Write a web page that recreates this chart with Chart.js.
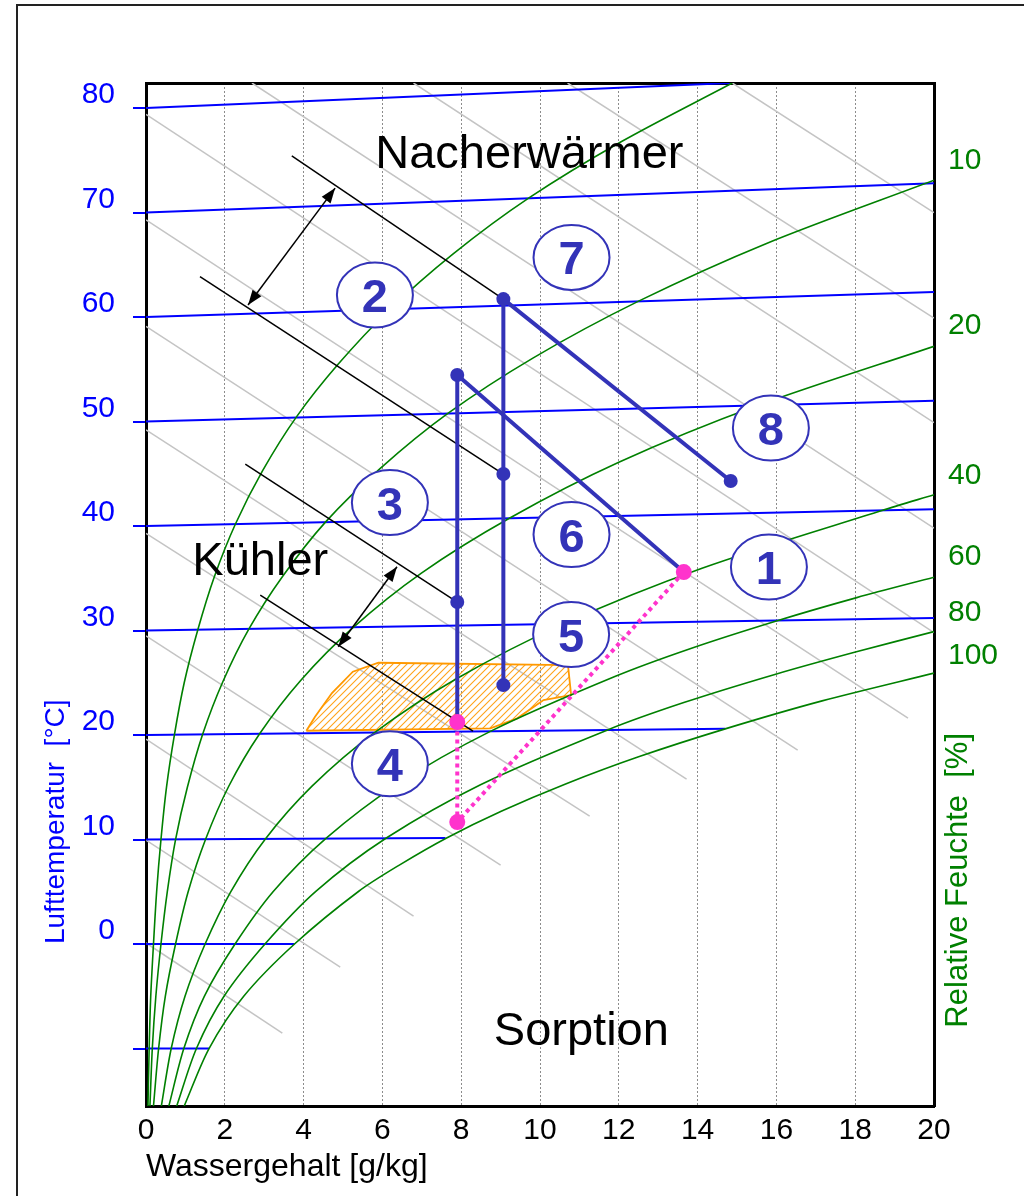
<!DOCTYPE html>
<html><head><meta charset="utf-8">
<script src="https://cdn.jsdelivr.net/npm/chart.js@4.4.1/dist/chart.umd.min.js"></script>
<style>
html,body{margin:0;padding:0;background:#fff;overflow:hidden;width:1024px;height:1196px;}
#frame{position:absolute;left:16px;top:4px;width:1100px;height:1300px;border:2px solid #222;box-sizing:border-box;}
#c{position:absolute;left:0;top:0;}
</style></head><body>
<div id="frame"></div>
<canvas id="c" width="1024" height="1196"></canvas>
<script>
// ---------- axes ----------
const xMin = 0, xMax = 20, xStep = 2;
const yMin = -15.5, yMax = 82.4, yStep = 10;          // Mollier ordinate in °C at x = 0
const tempTickLabels = ['', '0', '10', '20', '30', '40', '50', '60', '70', '80'];
const rhTickLabels = ['10', '20', '40', '60', '80', '100'];
const rhTickY = [75.0, 59.2, 44.8, 37.1, 31.7, 27.6];

// ---------- isotherms (blue), start at x=0, y=t ----------
const isoTemps = [-10, 0, 10, 20, 30, 40, 50, 60, 70, 80];
const isoEndX = [1.6, 3.77, 7.6, 14.7, 20, 20, 20, 20, 20, 14.84];
const isoEndY = [-10.0, 0, 10.15, 20.6, 31.2, 41.6, 52.0, 62.4, 72.8, 82.4];

// ---------- enthalpy lines (grey) ----------
const hStartX = [0, 0, 0, 0, 0, 0, 0, 0, 0, 2.69, 6.79, 10.70, 14.88];
const hStartY = [0.1, 9.95, 19.6, 29.5, 39.3, 49.2, 59.1, 69.3, 79.4, 82.4, 82.4, 82.4, 82.4];
const hEndX = [3.46, 4.93, 6.79, 9.0, 11.26, 13.72, 16.54, 19.34, 20, 20, 20, 20, 20];
const hEndY = [-8.52, -2.2, 2.68, 7.56, 12.25, 15.79, 18.56, 21.63, 29.8, 39.8, 49.9, 59.9, 70.0];

// ---------- relative humidity curves (green) ----------
const rh5x = [0.05, 0.08, 0.12, 0.19, 0.27, 0.38, 0.52, 0.72, 0.97, 1.31, 1.73, 2.27, 2.96, 3.81, 4.88, 6.18, 7.78, 9.72, 12.07, 14.88];
const rh5y = [-15.5, -10, -5, 0, 5, 10, 15, 20, 25, 30, 35.1, 40.2, 45.3, 50.4, 55.5, 60.7, 66.0, 71.4, 76.8, 82.4];
const rh10x = [0.1, 0.16, 0.25, 0.38, 0.54, 0.75, 1.05, 1.44, 1.95, 2.62, 3.47, 4.56, 5.94, 7.67, 9.83, 12.49, 15.75, 20];
const rh10y = [-15.5, -10, -5, 0, 5, 10, 15, 20.1, 25.1, 30.2, 35.2, 40.4, 45.5, 50.8, 56.1, 61.5, 67.05, 73.1];
const rh20x = [0.19, 0.32, 0.49, 0.75, 1.07, 1.51, 2.10, 2.88, 3.92, 5.26, 6.99, 9.20, 12.0, 15.54, 20];
const rh20y = [-15.5, -10, -5, 0, 5, 10, 15.1, 20.1, 25.2, 30.3, 35.5, 40.7, 46.1, 51.55, 57.2];
const rh40x = [0.39, 0.64, 0.99, 1.50, 2.15, 3.03, 4.22, 5.80, 7.88, 10.60, 14.13, 18.68, 20];
const rh40y = [-15.5, -10, -5, 0, 5.0, 10.06, 15.13, 20.23, 25.39, 30.64, 35.99, 41.49, 43.0];
const rh60x = [0.58, 0.96, 1.48, 2.26, 3.23, 4.56, 6.34, 8.74, 11.90, 13.81, 16.04, 18.04, 20];
const rh60y = [-15.5, -10, -5, 0, 5.03, 10.09, 15.19, 20.35, 25.6, 28.26, 30.96, 33.15, 35.1];
const rh80x = [0.78, 1.28, 1.98, 3.02, 4.31, 6.09, 8.49, 11.70, 13.65, 15.96, 18.03, 20];
const rh80y = [-15.5, -10, -5, 0, 5.04, 10.12, 15.25, 20.47, 23.11, 25.8, 27.97, 29.9];
const rh100x = [0.97, 1.60, 2.48, 3.77, 5.40, 6.45, 7.63, 9.03, 10.65, 12.52, 14.70, 17.16, 20];
const rh100y = [-15.5, -10, -5, 0, 5.05, 7.6, 10.15, 12.73, 15.32, 17.94, 20.59, 23.27, 25.93];

// ---------- comfort region (orange hatched) ----------
const zoneX = [4.07, 4.29, 4.72, 5.25, 5.90, 10.71, 10.79, 10.09, 9.42, 8.74, 4.07];
const zoneY = [20.41, 21.75, 24.02, 26.06, 26.92, 26.70, 23.83, 23.35, 21.60, 20.64, 20.41];

// ---------- process ----------
const procX = [[7.90, 7.90], [9.07, 9.07], [9.07, 14.84], [7.90, 13.65]];
const procY = [[54.45, 21.24], [61.72, 24.78], [61.72, 44.31], [54.45, 35.6]];
const stateX = [7.90, 9.07, 9.07, 7.90, 9.07, 14.84];
const stateY = [54.45, 61.72, 44.98, 32.73, 24.78, 44.31];
const sorpX = [13.65, 7.90, 7.90];
const sorpY = [35.6, 11.67, 21.24];

// ---------- annotation lines / arrows ----------
const guideX = [[3.70, 9.07], [1.37, 9.07], [2.52, 7.90], [2.90, 8.30]];
const guideY = [[75.43, 61.72], [63.86, 44.98], [45.93, 32.73], [33.40, 20.38]];
const arrowX = [[4.80, 2.59], [6.37, 4.88]];
const arrowY = [[72.34, 61.15], [36.11, 28.45]];

// ---------- labels ----------
const textLabels = ['Nacherwärmer', 'Kühler', 'Sorption'];
const textX = [9.73, 2.90, 11.05];
const textY = [74.26, 35.31, -9.67];
const circleLabels = ['1', '2', '3', '4', '5', '6', '7', '8'];
const circleX = [15.81, 5.81, 6.19, 6.19, 10.79, 10.80, 10.80, 15.86];
const circleY = [36.08, 62.1, 42.25, 17.25, 29.62, 39.19, 65.71, 49.38];

// ================= build =================
const FONT = '"Liberation Sans", Arial, Helvetica, sans-serif';
const BLUE = '#0000ff', GREEN = '#008000', GREY = '#c4c4c4', PROC = '#3333b8', PINK = '#ff33cc', ORANGE = '#ff9900';
const pts = (xs, ys) => xs.map((v, i) => ({x: v, y: ys[i]}));

const canvas = document.getElementById('c');
const pc = document.createElement('canvas'); pc.width = 7; pc.height = 7;
const pg = pc.getContext('2d');
pg.strokeStyle = '#ffa31a'; pg.lineWidth = 1.1;
pg.beginPath(); pg.moveTo(-1, 8); pg.lineTo(8, -1); pg.moveTo(-1, 1); pg.lineTo(1, -1); pg.moveTo(6, 8); pg.lineTo(8, 6); pg.stroke();
const hatch = canvas.getContext('2d').createPattern(pc, 'repeat');

const lineDs = (data, color, width, order, extra) => Object.assign({
  data, showLine: true, borderColor: color, borderWidth: width, pointRadius: 0, fill: false, order, tension: 0
}, extra || {});

const datasets = [];
hStartX.forEach((v, i) => datasets.push(lineDs([{x: v, y: hStartY[i]}, {x: hEndX[i], y: hEndY[i]}], GREY, 1.5, 20)));
datasets.push(lineDs(pts(zoneX, zoneY), ORANGE, 1.8, 18, {fill: 'shape', backgroundColor: hatch}));
isoTemps.forEach((t, i) => datasets.push(lineDs([{x: 0, y: t}, {x: isoEndX[i], y: isoEndY[i]}], BLUE, 2, 16)));
[[rh5x, rh5y], [rh10x, rh10y], [rh20x, rh20y], [rh40x, rh40y], [rh60x, rh60y], [rh80x, rh80y], [rh100x, rh100y]]
  .forEach(([xs, ys]) => datasets.push(lineDs(pts(xs, ys), GREEN, 1.6, 14, {tension: 0.3})));
guideX.forEach((xs, i) => datasets.push(lineDs(pts(xs, guideY[i]), '#000', 1.5, 12)));
arrowX.forEach((xs, i) => datasets.push(lineDs(pts(xs, arrowY[i]), '#000', 1.5, 12)));
procX.forEach((xs, i) => datasets.push(lineDs(pts(xs, procY[i]), PROC, 4, 10)));
datasets.push(lineDs(pts(sorpX, sorpY), PINK, 4, 8, {borderDash: [4, 4]}));
datasets.push({data: pts(stateX, stateY), showLine: false, pointRadius: 7, pointBackgroundColor: PROC, pointBorderWidth: 0, order: 6});
datasets.push({data: pts(sorpX, sorpY), showLine: false, pointRadius: 8, pointBackgroundColor: PINK, pointBorderWidth: 0, order: 5});

const overlay = {
  id: 'overlay',
  afterDatasetsDraw(chart) {
    const {ctx, chartArea: ca, scales: {x, y}} = chart;
    const px = v => x.getPixelForValue(v), py = v => y.getPixelForValue(v);
    ctx.save();
    // arrow heads
    ctx.fillStyle = '#000';
    arrowX.forEach((xs, i) => {
      const ax = xs.map(px), ay = arrowY[i].map(py);
      [[0, 1], [1, 0]].forEach(([a, b]) => {
        const ang = Math.atan2(ay[a] - ay[b], ax[a] - ax[b]);
        const L = 15, W = 5.5;
        ctx.beginPath();
        ctx.moveTo(ax[a], ay[a]);
        ctx.lineTo(ax[a] - L * Math.cos(ang) + W * Math.sin(ang), ay[a] - L * Math.sin(ang) - W * Math.cos(ang));
        ctx.lineTo(ax[a] - L * Math.cos(ang) - W * Math.sin(ang), ay[a] - L * Math.sin(ang) + W * Math.cos(ang));
        ctx.closePath(); ctx.fill();
      });
    });
    // big labels
    ctx.fillStyle = '#000';
    ctx.font = '47px ' + FONT; ctx.textAlign = 'center'; ctx.textBaseline = 'alphabetic';
    textLabels.forEach((t, i) => ctx.fillText(t, px(textX[i]), py(textY[i])));
    // numbered ellipses
    circleLabels.forEach((t, i) => {
      const cx = px(circleX[i]), cy = py(circleY[i]);
      ctx.beginPath(); ctx.ellipse(cx, cy, 38, 32.5, 0, 0, Math.PI * 2);
      ctx.fillStyle = '#fff'; ctx.fill();
      ctx.lineWidth = 2; ctx.strokeStyle = PROC; ctx.stroke();
      ctx.fillStyle = PROC; ctx.font = 'bold 47px ' + FONT;
      ctx.fillText(t, cx, cy + 17);
    });
    // axis titles (rotated)
    ctx.font = '28px ' + FONT; ctx.textAlign = 'left';
    ctx.save(); ctx.translate(ca.left - 82, py(0)); ctx.rotate(-Math.PI / 2);
    ctx.fillStyle = BLUE; ctx.fillText('Lufttemperatur  [°C]', 0, 0); ctx.restore();
    ctx.font = '31px ' + FONT;
    ctx.save(); ctx.translate(ca.right + 33, py(-8)); ctx.rotate(-Math.PI / 2);
    ctx.fillStyle = GREEN; ctx.fillText('Relative Feuchte  [%]', 0, 0); ctx.restore();
    ctx.restore();
  }
};

new Chart(canvas, {
  type: 'scatter',
  data: {datasets},
  options: {
    responsive: false, animation: false, devicePixelRatio: 1, events: [],
    layout: {padding: 0},
    plugins: {legend: {display: false}, tooltip: {enabled: false}},
    scales: {
      x: {
        type: 'linear', position: 'bottom', min: xMin, max: xMax,
        ticks: {stepSize: xStep, color: '#000', font: {family: FONT, size: 30}, padding: 7, maxRotation: 0},
        grid: {color: '#8c8c8c', lineWidth: 1, drawTicks: false},
        border: {display: true, color: '#000', width: 3, dash: [2, 2]},
        title: {display: true, text: 'Wassergehalt [g/kg]', align: 'start', color: '#000', font: {family: FONT, size: 32}, padding: {top: 0, bottom: 10}},
        afterFit: s => { s.height = 90; }
      },
      x2: {
        type: 'linear', position: 'top', min: xMin, max: xMax,
        ticks: {display: false}, grid: {display: false, drawTicks: false},
        border: {display: true, color: '#000', width: 3},
        afterFit: s => { s.height = 83; }
      },
      y: {
        type: 'linear', position: 'left', min: yMin, max: yMax,
        ticks: {stepSize: yStep, includeBounds: false, color: BLUE, font: {family: FONT, size: 30}, padding: 18, labelOffset: -13,
          callback: (v, i) => tempTickLabels[i]},
        grid: {drawOnChartArea: false, drawTicks: true, tickLength: 13, color: BLUE, lineWidth: 2},
        border: {display: true, color: '#000', width: 3},
        afterFit: s => { s.width = 146; }
      },
      y2: {
        type: 'linear', position: 'right', min: yMin, max: yMax,
        afterBuildTicks: s => { s.ticks = rhTickY.map(v => ({value: v})); },
        ticks: {autoSkip: false, color: GREEN, font: {family: FONT, size: 30}, padding: 14, callback: (v, i) => rhTickLabels[i]},
        grid: {display: false, drawTicks: false},
        border: {display: true, color: '#000', width: 3},
        afterFit: s => { s.width = 90; }
      }
    }
  },
  plugins: [overlay]
});
</script></body></html>
